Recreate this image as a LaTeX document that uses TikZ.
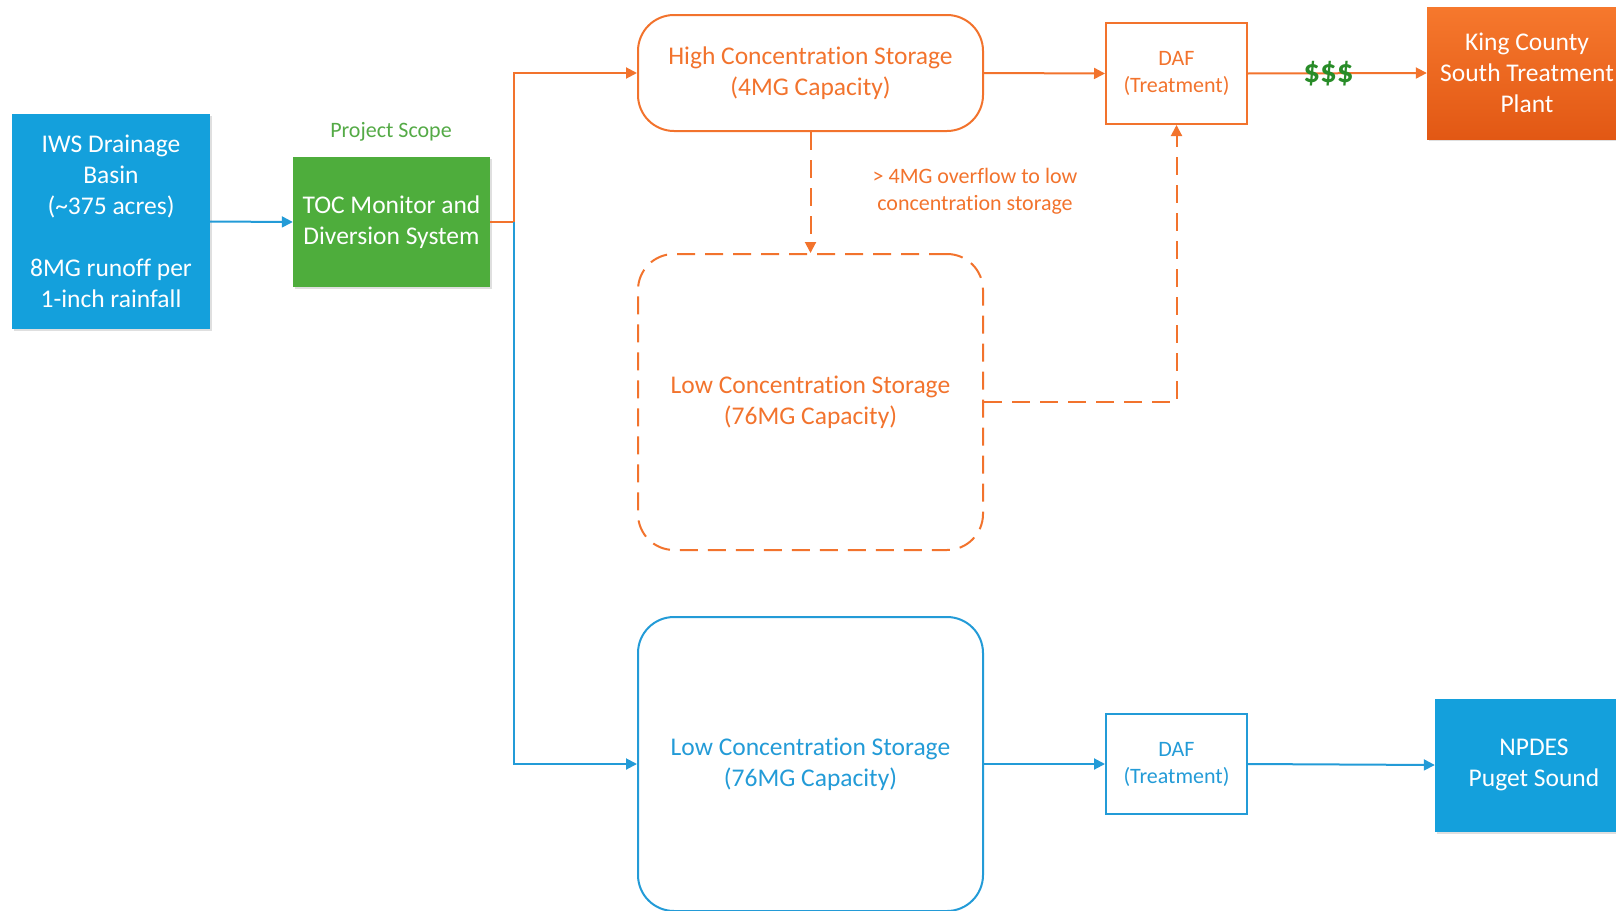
\documentclass[tikz,border=0pt]{standalone}
\usepackage{fontspec}
\setmainfont{Carlito}[Ligatures=NoCommon]
\usetikzlibrary{arrows.meta,shadows}
\definecolor{bluefill}{RGB}{20,160,220}
\definecolor{greenfill}{RGB}{78,173,60}
\definecolor{orline}{RGB}{242,115,45}
\definecolor{blline}{RGB}{35,155,215}
\definecolor{scopegreen}{RGB}{84,170,70}
\definecolor{moneygreen}{RGB}{40,140,40}
\definecolor{kingtop}{RGB}{246,120,45}
\definecolor{kingbot}{RGB}{226,88,20}
\tikzset{
  bigfont/.style={font=\fontsize{25.5}{31}\selectfont},
  smallfont/.style={font=\fontsize{22}{27}\selectfont},
  solidbox/.style={rectangle, align=center, text=white, bigfont, inner sep=0pt,
     drop shadow={opacity=0.25, shadow xshift=2pt, shadow yshift=-2pt}},
  storebox/.style={rectangle, rounded corners=36pt, align=center, bigfont, line width=2pt,
     minimum width=345pt, inner sep=0pt},
  dafbox/.style={rectangle, align=center, smallfont, line width=2pt, inner sep=0pt,
     minimum width=141pt},
  oarrow/.style={orline, line width=2pt, -{Triangle[length=11pt,width=11pt]}},
  barrow/.style={blline, line width=2pt, -{Triangle[length=11pt,width=11pt]}},
  odash/.style={dash pattern=on 18pt off 10pt},
}
\begin{document}
\begin{tikzpicture}[x=1pt,y=-1pt]
\useasboundingbox (0,0) rectangle (1616,910);
\clip (0,0) rectangle (1616,910);

\node[solidbox, fill=bluefill, minimum width=198pt, minimum height=215pt] (iws) at (111,221.5)
  {IWS Drainage\\Basin\\(\textasciitilde375 acres)\\\mbox{}\\8MG runoff per\\1-inch rainfall};
\node[solidbox, fill=greenfill, minimum width=197pt, minimum height=130pt] (toc) at (391.5,222)
  {TOC Monitor and\\Diversion System};
\node[smallfont, text=scopegreen] (scope) at (391,132) {Project Scope};

\node[storebox, draw=orline, text=orline, minimum height=116pt] (high) at (810.5,73)
  {High Concentration Storage\\(4MG Capacity)};
\node[dafbox, draw=orline, text=orline, minimum height=101pt] (dafA) at (1176.5,73.5)
  {DAF\\(Treatment)};
\node[solidbox, top color=kingtop, bottom color=kingbot, minimum width=200pt, minimum height=132pt] (king) at (1527,73)
  {King County\\South Treatment\\Plant};

\node[storebox, draw=orline, text=orline, odash, minimum height=296pt] (lowO) at (810.5,402)
  {Low Concentration Storage\\(76MG Capacity)};
\node[smallfont, text=orline, align=center] (ovf) at (975,191)
  {> 4MG overflow to low\\concentration storage};

\node[storebox, draw=blline, text=blline, minimum height=294pt] (lowB) at (810.5,764)
  {Low Concentration Storage\\(76MG Capacity)};
\node[dafbox, draw=blline, text=blline, minimum height=100pt] (dafB) at (1176.5,764)
  {DAF\\(Treatment)};
\node[solidbox, fill=bluefill, minimum width=198pt, minimum height=133pt] (npdes) at (1534,765)
  {NPDES\\Puget Sound};

\coordinate (split) at (514,222);
\coordinate (dashcorner) at (1176.5,402);

\draw[barrow] (iws.east) -- (toc.west);
\draw[oarrow] (toc.east) -- (split) |- (high.west);
\draw[barrow] (split) |- (lowB.west);
\draw[oarrow] (high.east) -- (dafA.west);
\draw[oarrow] (dafA.east) -- node[pos=0.45, font=\bfseries\fontsize{33}{33}\selectfont, text=moneygreen] (money) {\$\$\$} (king.west);
\draw[oarrow, odash] (high.south) -- (lowO.north);
\draw[oarrow, odash] (lowO.east) -- (dashcorner) -- (dafA.south);
\draw[barrow] (lowB.east) -- (dafB.west);
\draw[barrow] (dafB.east) -- (npdes.west);
\end{tikzpicture}
\end{document}
